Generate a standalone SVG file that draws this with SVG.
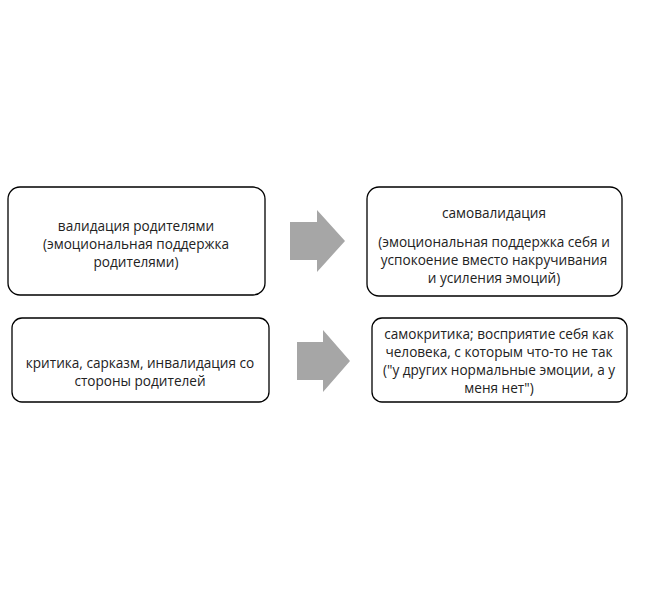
<svg xmlns="http://www.w3.org/2000/svg" width="647" height="600" viewBox="0 0 647 600">
<style>
.b{fill:#fff;stroke:#000;stroke-width:1.3}
.t{font-family:"Open Sans","Liberation Sans",sans-serif;font-size:13.6px;fill:#222;text-anchor:middle}
.a{fill:#a6a6a6}
</style>
<rect width="647" height="600" fill="#fff"/>
<g id="n1"><rect class="b" x="8" y="187" width="257" height="108" rx="12"/>
<text class="t" x="136" y="231">валидация родителями</text>
<text class="t" x="136" y="249">(эмоциональная поддержка</text>
<text class="t" x="136" y="267">родителями)</text></g>
<g id="n2"><rect class="b" x="367" y="187" width="255" height="109" rx="12"/>
<text class="t" x="494" y="218">самовалидация</text>
<text class="t" x="494" y="247">(эмоциональная поддержка себя и</text>
<text class="t" x="494" y="265">успокоение вместо накручивания</text>
<text class="t" x="494" y="283">и усиления эмоций)</text></g>
<g id="n3"><rect class="b" x="12" y="318" width="257" height="84" rx="10"/>
<text class="t" x="140" y="368">критика, сарказм, инвалидация со</text>
<text class="t" x="140" y="386">стороны родителей</text></g>
<g id="n4"><rect class="b" x="372" y="318" width="255" height="84" rx="10"/>
<text class="t" x="499" y="339">самокритика; восприятие себя как</text>
<text class="t" x="499" y="357">человека, с которым что-то не так</text>
<text class="t" x="499" y="375">("у других нормальные эмоции, а у</text>
<text class="t" x="499" y="393">меня нет")</text></g>
<g id="connectors">
<polygon class="a" points="290,222 317,222 317,210 345,241 317,272 317,260 290,260"/>
<polygon class="a" points="297,342 323,342 323,330 350,361 323,392 323,380 297,380"/>
</g>
</svg>
